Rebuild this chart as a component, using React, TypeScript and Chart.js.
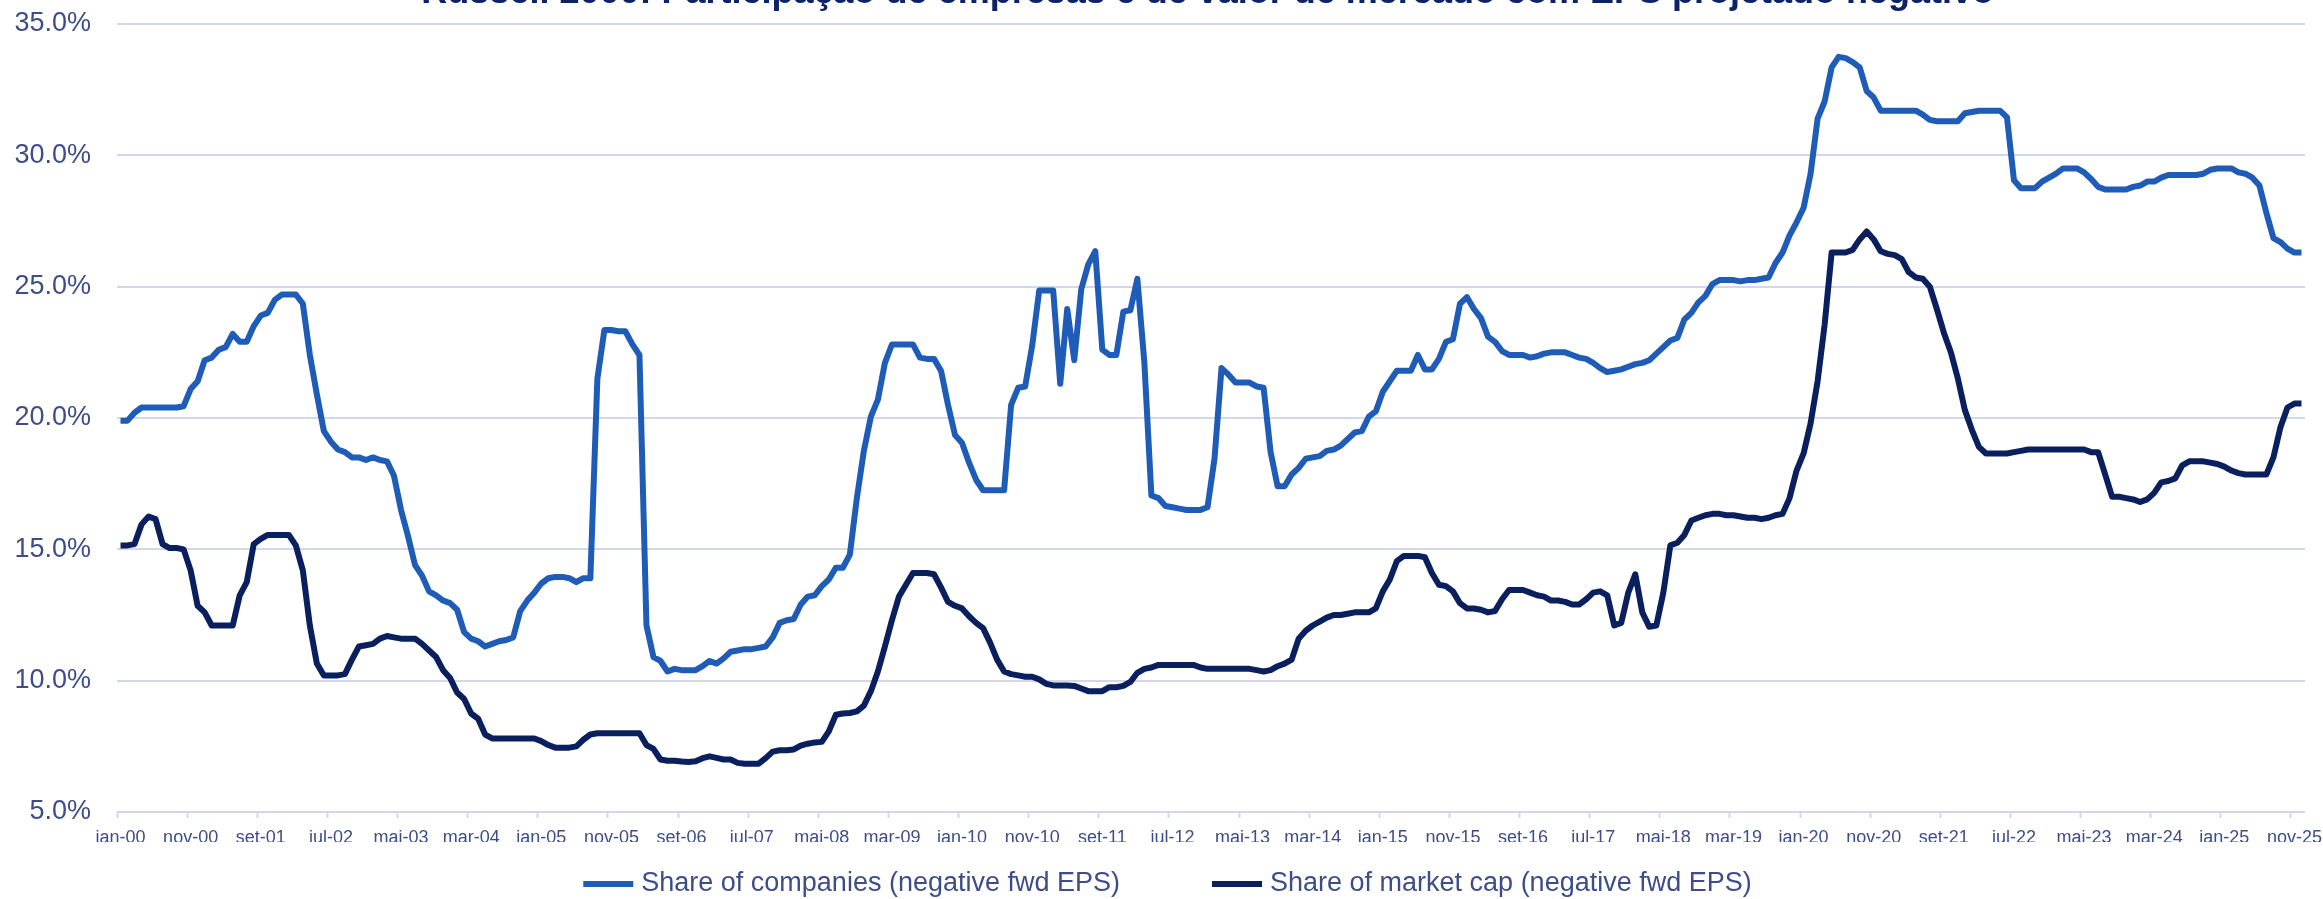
import { useEffect, useRef } from 'react';
import { Chart, registerables } from 'chart.js';

Chart.register(...registerables);

const TITLE = 'Russell 2000: Participação de empresas e de valor de mercado com EPS projetado negativo';

const MONTHS = ['jan', 'fev', 'mar', 'abr', 'mai', 'jun', 'jul', 'ago', 'set', 'out', 'nov', 'dez'];
const YEARS = ['00', '01', '02', '03', '04', '05', '06', '07', '08', '09', '10', '11', '12', '13', '14', '15', '16', '17', '18', '19', '20', '21', '22', '23', '24', '25'];
const categories: string[] = YEARS.flatMap((y) => MONTHS.map((m) => `${m}-${y}`));

const SERIES_NAMES = ['Share of companies (negative fwd EPS)', 'Share of market cap (negative fwd EPS)'];

const shareCompanies = [
  19.9, 19.9, 20.2, 20.4, 20.4, 20.4, 20.4, 20.4, 20.4, 20.45,
  21.1, 21.4, 22.2, 22.3, 22.6, 22.7, 23.2, 22.9, 22.9, 23.5,
  23.9, 24.0, 24.5, 24.7, 24.7, 24.7, 24.35, 22.4, 20.9, 19.5,
  19.1, 18.8, 18.7, 18.5, 18.5, 18.4, 18.5, 18.4, 18.35, 17.8,
  16.5, 15.5, 14.4, 14.0, 13.4, 13.25, 13.05, 12.95, 12.7, 11.85,
  11.6, 11.5, 11.3, 11.4, 11.5, 11.55, 11.65, 12.65, 13.05, 13.35,
  13.7, 13.9, 13.95, 13.95, 13.9, 13.75, 13.9, 13.9, 21.5, 23.35,
  23.35, 23.3, 23.3, 22.8, 22.4, 12.1, 10.9, 10.75, 10.35, 10.45,
  10.4, 10.4, 10.4, 10.55, 10.75, 10.65, 10.85, 11.1, 11.15, 11.2,
  11.2, 11.25, 11.3, 11.65, 12.2, 12.3, 12.35, 12.9, 13.2, 13.25,
  13.6, 13.85, 14.3, 14.3, 14.8, 16.95, 18.75, 20.05, 20.7, 22.1,
  22.8, 22.8, 22.8, 22.8, 22.3, 22.25, 22.25, 21.8, 20.5, 19.35,
  19.05, 18.3, 17.65, 17.25, 17.25, 17.25, 17.25, 20.5, 21.15, 21.2,
  22.75, 24.85, 24.85, 24.85, 21.3, 24.15, 22.2, 24.9, 25.85, 26.35,
  22.6, 22.4, 22.4, 24.05, 24.1, 25.3, 22.1, 17.05, 16.95, 16.65,
  16.6, 16.55, 16.5, 16.5, 16.5, 16.6, 18.45, 21.9, 21.65, 21.35,
  21.35, 21.35, 21.2, 21.15, 18.7, 17.4, 17.4, 17.85, 18.1, 18.45,
  18.5, 18.55, 18.75, 18.8, 18.95, 19.2, 19.45, 19.5, 20.05, 20.25,
  21.0, 21.4, 21.8, 21.8, 21.8, 22.4, 21.85, 21.85, 22.25, 22.9,
  23.0, 24.35, 24.6, 24.15, 23.8, 23.1, 22.9, 22.55, 22.4, 22.4,
  22.4, 22.3, 22.35, 22.45, 22.5, 22.5, 22.5, 22.4, 22.3, 22.25,
  22.1, 21.9, 21.75, 21.8, 21.85, 21.95, 22.05, 22.1, 22.2, 22.45,
  22.7, 22.95, 23.05, 23.75, 24.0, 24.4, 24.65, 25.1, 25.25, 25.25,
  25.25, 25.2, 25.25, 25.25, 25.3, 25.35, 25.9, 26.3, 26.95, 27.45,
  28.0, 29.3, 31.4, 32.05, 33.35, 33.75, 33.7, 33.55, 33.35, 32.45,
  32.2, 31.7, 31.7, 31.7, 31.7, 31.7, 31.7, 31.55, 31.35, 31.3,
  31.3, 31.3, 31.3, 31.6, 31.65, 31.7, 31.7, 31.7, 31.7, 31.45,
  29.05, 28.75, 28.75, 28.75, 29.0, 29.15, 29.3, 29.5, 29.5, 29.5,
  29.35, 29.1, 28.8, 28.7, 28.7, 28.7, 28.7, 28.8, 28.85, 29.0,
  29.0, 29.15, 29.25, 29.25, 29.25, 29.25, 29.25, 29.3, 29.45, 29.5,
  29.5, 29.5, 29.35, 29.3, 29.15, 28.85, 27.8, 26.85, 26.7, 26.45,
  26.3, 26.3,
];

const shareMarketCap = [
  15.15, 15.15, 15.2, 15.95, 16.25, 16.15, 15.2, 15.05, 15.05, 15.0,
  14.2, 12.85, 12.6, 12.1, 12.1, 12.1, 12.1, 13.25, 13.75, 15.2,
  15.4, 15.55, 15.55, 15.55, 15.55, 15.15, 14.2, 12.1, 10.65, 10.2,
  10.2, 10.2, 10.25, 10.8, 11.3, 11.35, 11.4, 11.6, 11.7, 11.65,
  11.6, 11.6, 11.6, 11.4, 11.15, 10.9, 10.4, 10.1, 9.55, 9.3,
  8.75, 8.55, 7.95, 7.8, 7.8, 7.8, 7.8, 7.8, 7.8, 7.8,
  7.7, 7.55, 7.45, 7.45, 7.45, 7.5, 7.75, 7.95, 8.0, 8.0,
  8.0, 8.0, 8.0, 8.0, 8.0, 7.55, 7.4, 7.0, 6.95, 6.95,
  6.92, 6.9, 6.93, 7.05, 7.12, 7.06, 7.0, 7.0, 6.87, 6.84,
  6.84, 6.84, 7.05, 7.3, 7.35, 7.35, 7.38, 7.53, 7.6, 7.65,
  7.67, 8.07, 8.7, 8.75, 8.77, 8.83, 9.05, 9.6, 10.35, 11.3,
  12.3, 13.2, 13.65, 14.1, 14.1, 14.1, 14.05, 13.55, 13.0, 12.85,
  12.75, 12.45, 12.2, 12.0, 11.45, 10.8, 10.35, 10.25, 10.2, 10.15,
  10.15, 10.05, 9.88, 9.82, 9.82, 9.82, 9.8, 9.7, 9.6, 9.6,
  9.6, 9.75, 9.75, 9.8, 9.95, 10.3, 10.45, 10.5, 10.6, 10.6,
  10.6, 10.6, 10.6, 10.6, 10.5, 10.45, 10.45, 10.45, 10.45, 10.45,
  10.45, 10.45, 10.4, 10.35, 10.4, 10.55, 10.65, 10.8, 11.6, 11.9,
  12.1, 12.25, 12.4, 12.5, 12.5, 12.55, 12.6, 12.6, 12.6, 12.75,
  13.4, 13.85, 14.55, 14.75, 14.75, 14.75, 14.7, 14.1, 13.65, 13.6,
  13.4, 12.95, 12.75, 12.75, 12.7, 12.6, 12.65, 13.1, 13.45, 13.45,
  13.45, 13.35, 13.25, 13.2, 13.05, 13.05, 13.0, 12.9, 12.9, 13.1,
  13.35, 13.4, 13.25, 12.1, 12.2, 13.35, 14.05, 12.6, 12.05, 12.1,
  13.35, 15.15, 15.25, 15.55, 16.1, 16.2, 16.3, 16.35, 16.35, 16.3,
  16.3, 16.25, 16.2, 16.2, 16.15, 16.2, 16.3, 16.35, 16.95, 18.0,
  18.65, 19.8, 21.4, 23.55, 26.3, 26.3, 26.3, 26.4, 26.8, 27.1,
  26.8, 26.35, 26.25, 26.2, 26.05, 25.55, 25.35, 25.3, 25.0, 24.15,
  23.25, 22.5, 21.5, 20.3, 19.55, 18.9, 18.65, 18.65, 18.65, 18.65,
  18.7, 18.75, 18.8, 18.8, 18.8, 18.8, 18.8, 18.8, 18.8, 18.8,
  18.8, 18.7, 18.7, 17.85, 17.0, 17.0, 16.95, 16.9, 16.8, 16.9,
  17.15, 17.55, 17.6, 17.7, 18.2, 18.35, 18.35, 18.35, 18.3, 18.25,
  18.15, 18.0, 17.9, 17.85, 17.85, 17.85, 17.85, 18.5, 19.65, 20.4,
  20.55, 20.55,
];

const Y_MIN = 5;
const Y_MAX = 35;
const Y_STEP = 5;
const LABEL_EVERY = 10;

const LIGHT_BLUE = '#1F5CB8';
const NAVY = '#0A1F5E';
const GRID = '#D3D7EA';
const TEXT = '#3E4D88';
const TITLE_COLOR = '#0E2266';
const FONT = '"Liberation Sans", Arial, sans-serif';

const overlayPlugin = {
  id: 'overlay',
  afterDraw(chart: any) {
    const ctx = chart.ctx as CanvasRenderingContext2D;
    ctx.save();
    // title (mostly cut off at the top, like the reference)
    ctx.font = `bold 36px ${FONT}`;
    ctx.fillStyle = TITLE_COLOR;
    ctx.textAlign = 'right';
    ctx.textBaseline = 'alphabetic';
    ctx.fillText(TITLE, 1994, 3);

    // legend
    ctx.font = `27px ${FONT}`;
    const items = chart.data.datasets.map((ds: any) => ({
      text: ds.label as string,
      color: ds.borderColor as string,
      w: ctx.measureText(ds.label).width,
    }));
    const boxW = 50;
    const boxH = 6;
    const gap = 8;
    const itemGap = 92;
    const total = items.reduce((s: number, it: any) => s + boxW + gap + it.w, 0) + itemGap * (items.length - 1);
    let x = chart.width / 2 + 6 - total / 2;
    const y = 884;
    ctx.textAlign = 'left';
    ctx.textBaseline = 'middle';
    items.forEach((it: any) => {
      ctx.fillStyle = it.color;
      ctx.fillRect(x, y - boxH / 2, boxW, boxH);
      ctx.fillStyle = TEXT;
      ctx.fillText(it.text, x + boxW + gap, y);
      x += boxW + gap + it.w + itemGap;
    });
    ctx.restore();
  },
};

export default function App() {
  const ref = useRef<HTMLCanvasElement>(null);

  useEffect(() => {
    document.body.style.margin = '0';
    const canvas = ref.current;
    if (!canvas) return;
    const chart = new Chart(canvas, {
      type: 'line',
      data: {
        labels: categories,
        datasets: [
          {
            label: SERIES_NAMES[0],
            data: shareCompanies,
            borderColor: LIGHT_BLUE,
            backgroundColor: LIGHT_BLUE,
            borderWidth: 6,
            pointRadius: 0,
            tension: 0,
            borderJoinStyle: 'round',
            fill: false,
          },
          {
            label: SERIES_NAMES[1],
            data: shareMarketCap,
            borderColor: NAVY,
            backgroundColor: NAVY,
            borderWidth: 6,
            pointRadius: 0,
            tension: 0,
            borderJoinStyle: 'round',
            fill: false,
          },
        ],
      },
      options: {
        responsive: false,
        animation: false,
        events: [],
        layout: { padding: { top: 24, right: 18, bottom: 57, left: 0 } },
        plugins: {
          legend: { display: false },
          title: { display: false },
          tooltip: { enabled: false },
        },
        scales: {
          x: {
            type: 'category',
            offset: true,
            afterFit: (scale: any) => {
              scale.height = 30;
            },
            grid: {
              offset: true,
              drawOnChartArea: false,
              drawTicks: true,
              tickLength: 6,
              tickWidth: 2,
              tickColor: (c: any) => (c.index % LABEL_EVERY === 0 ? GRID : 'rgba(0,0,0,0)'),
            },
            border: { display: false },
            ticks: {
              autoSkip: false,
              maxRotation: 0,
              minRotation: 0,
              padding: 9,
              color: TEXT,
              font: { family: FONT, size: 18 },
              callback: (_v: any, i: number) => (i % LABEL_EVERY === 0 ? categories[i] : ''),
            },
          },
          y: {
            min: Y_MIN,
            max: Y_MAX,
            afterFit: (scale: any) => {
              scale.width = 117;
              scale.paddingTop = 0;
              scale.paddingBottom = 0;
            },
            grid: { color: GRID, lineWidth: 2, drawTicks: false },
            border: { display: false },
            ticks: {
              stepSize: Y_STEP,
              padding: 26,
              color: TEXT,
              font: { family: FONT, size: 27 },
              callback: (v: any) => `${Number(v).toFixed(1)}%`,
            },
          },
        },
      },
      plugins: [overlayPlugin],
    });
    return () => chart.destroy();
  }, []);

  return (
    <div style={{ width: 2323, height: 899 }}>
      <canvas ref={ref} width={2323} height={899} style={{ display: 'block' }} />
    </div>
  );
}
